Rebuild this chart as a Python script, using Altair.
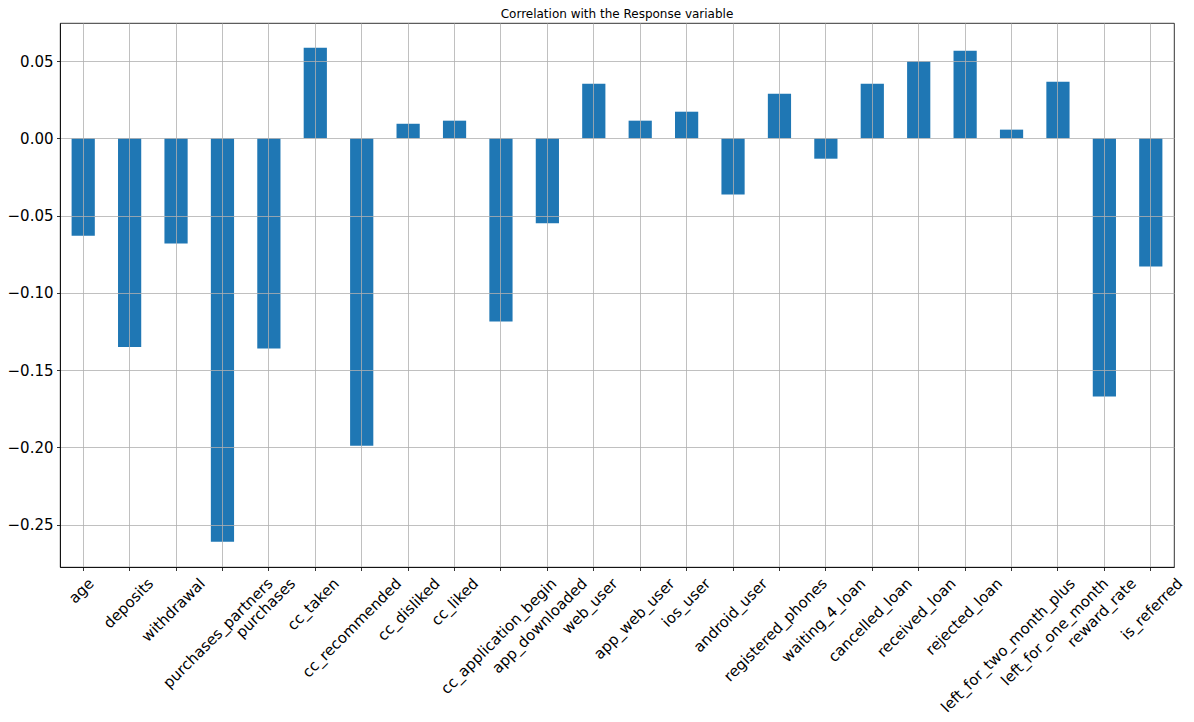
import altair as alt
import pandas as pd

features = [
    "age", "deposits", "withdrawal", "purchases_partners", "purchases",
    "cc_taken", "cc_recommended", "cc_disliked", "cc_liked",
    "cc_application_begin", "app_downloaded", "web_user", "app_web_user",
    "ios_user", "android_user", "registered_phones", "waiting_4_loan",
    "cancelled_loan", "received_loan", "rejected_loan",
    "left_for_two_month_plus", "left_for_one_month", "reward_rate", "is_referred",
]
correlations = [
    -0.063, -0.135, -0.068, -0.261, -0.136,
    0.0586, -0.199, 0.0094, 0.0114,
    -0.1185, -0.055, 0.0353, 0.0114,
    0.0172, -0.0363, 0.0289, -0.0132,
    0.0353, 0.0498, 0.0567,
    0.0056, 0.0366, -0.167, -0.0829,
]
y_ticks = [-0.25, -0.20, -0.15, -0.10, -0.05, 0.00, 0.05]
title_text = "Correlation with the Response variable"

df = pd.DataFrame({"feature": features, "corr": correlations})

FONT = "DejaVu Sans"

bars = alt.Chart(df).mark_bar(color="#1f77b4").encode(
    x=alt.X(
        "feature:N",
        sort=features,
        scale=alt.Scale(paddingInner=0.5, paddingOuter=0.25),
        axis=alt.Axis(
            title=None,
            bandPosition=0.5,
            labelAngle=-45,
            labelAlign="right",
            labelBaseline="middle",
            labelOffset=alt.ExprRef("length(datum.label)*2.65"),
            labelPadding=10,
            labelOverlap=False,
            labelFlush=False,
            labelBound=False,
            labelLimit=0,
            labelFont=FONT,
            labelFontSize=15,
            labelColor="black",
            tickSize=3.5,
            tickColor="black",
            tickWidth=0.8,
            domainColor="black",
            domainWidth=0.8,
            grid=True,
            gridColor="#b0b0b0",
            gridWidth=0.8,
            zindex=1,
        ),
    ),
    y=alt.Y(
        "corr:Q",
        scale=alt.Scale(domain=[-0.2774, 0.0746], nice=False, zero=False),
        axis=alt.Axis(
            title=None,
            values=y_ticks,
            labelExpr="replace(format(datum.value, '.2f'), '-', '\u2212')",
            labelFont=FONT,
            labelFontSize=15,
            labelColor="black",
            labelPadding=3.5,
            tickSize=3.5,
            tickColor="black",
            tickWidth=0.8,
            domainColor="black",
            domainWidth=0.8,
            grid=True,
            gridColor="#b0b0b0",
            gridWidth=0.8,
            zindex=1,
        ),
    ),
)

chart = bars.properties(
    width=1114,
    height=544,
    title=alt.TitleParams(
        title_text, font=FONT, fontSize=12, fontWeight="normal",
        color="black", anchor="middle", offset=2,
    ),
    autosize=alt.AutoSizeParams(type="none"),
    padding={"left": 52, "top": 15, "right": 12, "bottom": 150},
).configure_view(stroke="black", strokeWidth=0.8)

chart.save("out.html", embed_options={"renderer": "svg", "actions": False})
